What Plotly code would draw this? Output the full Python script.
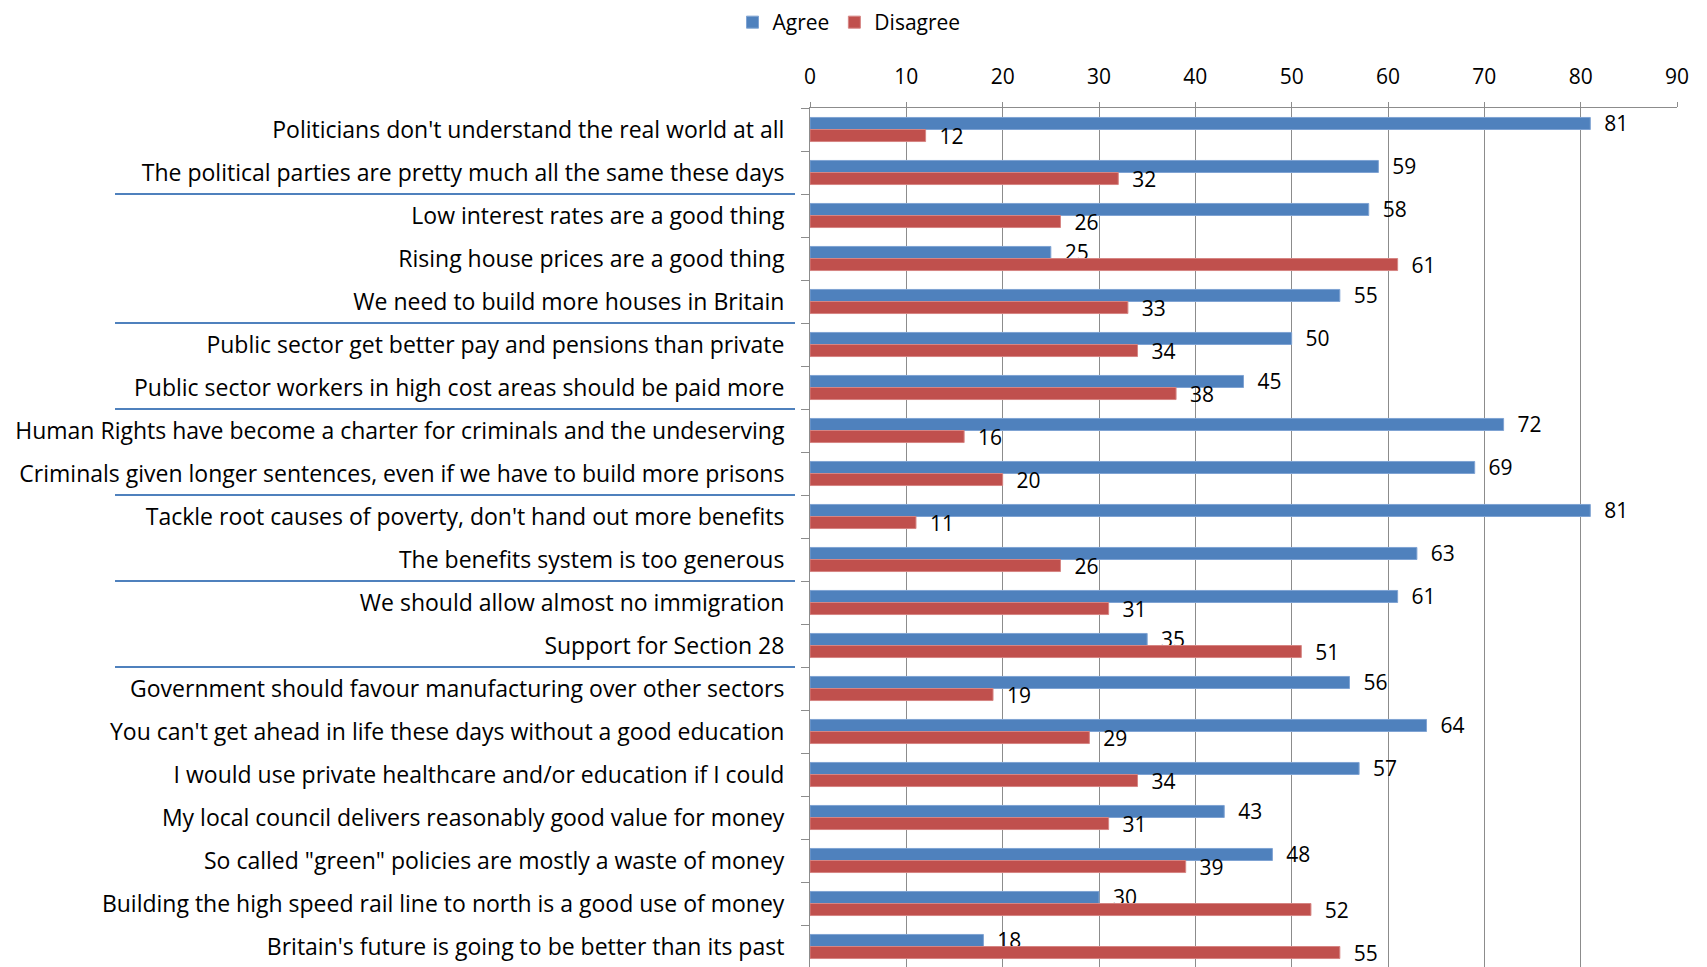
"""Agree / disagree survey chart, horizontal grouped bars."""
import plotly.graph_objects as go

statements = [
    "Politicians don't understand the real world at all",
    "The political parties are pretty much all the same these days",
    "Low interest rates are a good thing",
    "Rising house prices are a good thing",
    "We need to build more houses in Britain",
    "Public sector get better pay and pensions than private",
    "Public sector workers in high cost areas should be paid more",
    "Human Rights have become a charter for criminals and the undeserving",
    "Criminals given longer sentences, even if we have to build more prisons",
    "Tackle root causes of poverty, don't hand out more benefits",
    "The benefits system is too generous",
    "We should allow almost no immigration",
    "Support for Section 28",
    "Government should favour manufacturing over other sectors",
    "You can't get ahead in life these days without a good education",
    "I would use private healthcare and/or education if I could",
    "My local council delivers reasonably good value for money",
    "So called \"green\" policies are mostly a waste of money",
    "Building the high speed rail line to north is a good use of money",
    "Britain's future is going to be better than its past",
]
agree = [81, 59, 58, 25, 55, 50, 45, 72, 69, 81, 63, 61, 35, 56, 64, 57, 43, 48, 30, 18]
disagree = [12, 32, 26, 61, 33, 34, 38, 16, 20, 11, 26, 31, 51, 19, 29, 34, 31, 39, 52, 55]

# statements followed by a group separator line
group_ends = [
    "The political parties are pretty much all the same these days",
    "We need to build more houses in Britain",
    "Public sector workers in high cost areas should be paid more",
    "Criminals given longer sentences, even if we have to build more prisons",
    "The benefits system is too generous",
    "Support for Section 28",
]

FONT = "Open Sans"
BLUE = "#4F81BD"
RED = "#C0504D"
GRID = "#8C8C8C"
PAD = "\u00a0\u00a0"

fig = go.Figure()
fig.add_trace(go.Bar(
    y=statements, x=agree, name="Agree", orientation="h",
    marker=dict(color=BLUE, line=dict(color="#7FA3D3", width=1)),
    text=[PAD + str(v) for v in agree], textposition="outside",
    constraintext="none",
    textfont=dict(family=FONT, size=21, color="black"), cliponaxis=False,
))
fig.add_trace(go.Bar(
    y=statements, x=disagree, name="Disagree", orientation="h",
    marker=dict(color=RED, line=dict(color="#D68583", width=1)),
    text=[PAD + str(v) for v in disagree], textposition="outside",
    constraintext="none",
    textfont=dict(family=FONT, size=21, color="black"), cliponaxis=False,
))

shapes = []
for s in group_ends:
    pos = statements.index(s) + 0.5
    shapes.append(dict(
        type="line", xref="paper", yref="y", x0=-0.8016, x1=-0.0173,
        y0=pos, y1=pos, line=dict(color=BLUE, width=2),
    ))

fig.update_layout(
    width=1699, height=967,
    margin=dict(l=802, r=30, t=100, b=7),
    paper_bgcolor="white", plot_bgcolor="white",
    barmode="group", bargap=0.44, bargroupgap=0,
    font=dict(family=FONT, size=22, color="black"),
    showlegend=True,
    legend=dict(
        orientation="h", x=0.045, xanchor="center",
        yref="container", y=0.985, yanchor="middle",
        font=dict(family=FONT, size=21), itemwidth=30, traceorder="normal",
    ),
    shapes=shapes,
)
fig.update_xaxes(
    side="top", range=[0, 90], dtick=10, tick0=0,
    showgrid=True, gridcolor=GRID, gridwidth=1,
    showline=True, linecolor=GRID, linewidth=1,
    ticks="outside", ticklen=5, tickcolor=GRID,
    zeroline=False, ticklabelstandoff=10, automargin=False,
    tickfont=dict(family=FONT, size=21, color="black"),
)
fig.update_yaxes(
    autorange="reversed", showgrid=False,
    showline=True, linecolor=GRID, linewidth=1,
    ticks="outside", ticklen=8, tickcolor=GRID, tickson="boundaries",
    ticklabelstandoff=20, automargin=False,
    tickfont=dict(family=FONT, size=23, color="black"),
)

fig.write_html("out.html")
